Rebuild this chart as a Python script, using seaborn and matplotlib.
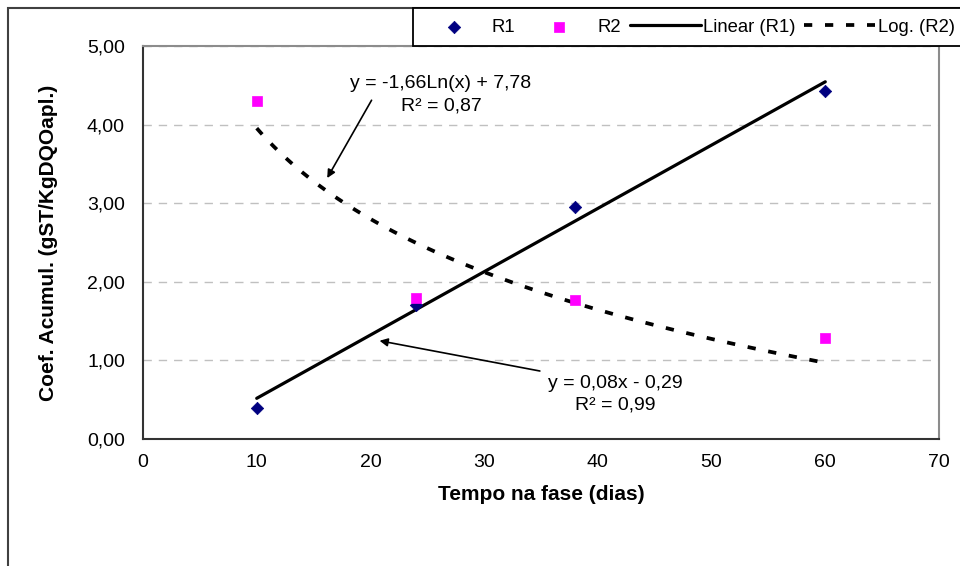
import matplotlib
matplotlib.use("Agg")
import matplotlib.pyplot as plt
import seaborn as sns
import pandas as pd
from matplotlib.patches import Rectangle

# dados
dias = [10, 24, 38, 60]
r1 = [0.40, 1.70, 2.95, 4.43]
r2 = [4.30, 1.80, 1.77, 1.28]
x_ticks = [0, 10, 20, 30, 40, 50, 60, 70]
y_ticks = [0, 1, 2, 3, 4, 5]
y_tick_labels = ["0,00", "1,00", "2,00", "3,00", "4,00", "5,00"]
eq_log = "y = -1,66Ln(x) + 7,78\nR² = 0,87"
eq_lin = "y = 0,08x - 0,29\nR² = 0,99"

df = pd.DataFrame({"dias": dias, "R1": r1, "R2": r2})

sns.set_style("white")
plt.rcParams["font.family"] = ["Liberation Sans", "DejaVu Sans"]
plt.rcParams["text.color"] = "black"
plt.rcParams["axes.labelcolor"] = "black"

fig = plt.figure(figsize=(9.6, 5.66), dpi=100)
ax = fig.add_axes([143 / 960, 1 - 439 / 566, (939 - 143) / 960, (439 - 46) / 566])

# moldura externa (estilo Excel)
fig.patches.append(Rectangle((8 / 960, -0.02), 1.1, 1 - 8 / 566 + 0.02,
                             transform=fig.transFigure, fill=False,
                             edgecolor="#404040", linewidth=1.5, zorder=0))

# linhas de tendência
sns.regplot(data=df, x="dias", y="R1", ax=ax, scatter=False, ci=None,
            color="black", line_kws={"linewidth": 2.3, "zorder": 2},
            label="Linear (R1)")
sns.regplot(data=df, x="dias", y="R2", ax=ax, scatter=False, ci=None, logx=True,
            color="black", line_kws={"linewidth": 2.7, "linestyle": (0, (2.2, 3.4)),
                                     "zorder": 2},
            label="Log. (R2)")

# pontos
sns.scatterplot(data=df, x="dias", y="R1", ax=ax, marker="D", s=40,
                color="#000080", edgecolor="#000080", linewidth=0.5,
                zorder=3, label="R1")
sns.scatterplot(data=df, x="dias", y="R2", ax=ax, marker="s", s=56,
                color="#FF00FF", edgecolor="#FF00FF", linewidth=0.5,
                zorder=3, label="R2")

handles, labels = ax.get_legend_handles_labels()
if ax.get_legend() is not None:
    ax.get_legend().remove()

ax.set_xlim(0, 70)
ax.set_ylim(0, 5)
ax.set_xticks(x_ticks)
ax.set_yticks(y_ticks)
ax.set_yticklabels(y_tick_labels)
ax.tick_params(axis="both", direction="out", length=5, width=1,
               color="#333333", labelsize=14, labelcolor="black")
ax.tick_params(axis="y", pad=8)
ax.tick_params(axis="x", pad=6)
ax.yaxis.grid(True, color="#c0c0c0", linestyle=(0, (6, 5)), linewidth=1)
ax.xaxis.grid(False)

for side in ["left", "bottom"]:
    ax.spines[side].set_color("#333333")
    ax.spines[side].set_linewidth(1.5)
for side in ["top", "right"]:
    ax.spines[side].set_color("#8c8c8c")
    ax.spines[side].set_linewidth(1.5)

ax.set_xlabel("Tempo na fase (dias)", fontsize=15, fontweight="bold")
ax.set_ylabel("Coef. Acumul. (gST/KgDQOapl.)", fontsize=15, fontweight="bold")
ax.xaxis.set_label_coords(0.5, -(485 - 439) / 393)
ax.yaxis.set_label_coords(-(143 - 58) / 796, 0.5)

# equações e setas
ax.text(26.2, 4.38, eq_log, ha="center", va="center", fontsize=14,
        multialignment="center", linespacing=1.35)
ax.annotate("", xy=(16.2, 3.32), xytext=(20.1, 4.31),
            arrowprops=dict(arrowstyle="-|>", color="black", lw=1.2,
                            mutation_scale=12, shrinkA=0, shrinkB=0))
ax.text(41.5, 0.57, eq_lin, ha="center", va="center", fontsize=14,
        multialignment="center", linespacing=1.35)
ax.annotate("", xy=(20.8, 1.25), xytext=(34.9, 0.865),
            arrowprops=dict(arrowstyle="-|>", color="black", lw=1.2,
                            mutation_scale=12, shrinkA=0, shrinkB=0))

# legenda no topo
fig.patches.append(Rectangle((413 / 960, 1 - 46 / 566), (975 - 413) / 960, 38 / 566,
                             transform=fig.transFigure, facecolor="white",
                             edgecolor="black", linewidth=1.3, zorder=4))
order = ["R1", "R2", "Linear (R1)", "Log. (R2)"]
hmap = dict(zip(labels, handles))
leg = fig.legend([hmap[k] for k in order], order, loc="center left",
                 bbox_to_anchor=(418 / 960, 1 - 27 / 566),
                 ncol=4, frameon=False,
                 fontsize=13.3, handlelength=3.85, handletextpad=0.15,
                 columnspacing=0.45, borderpad=0, borderaxespad=0)
leg.set_zorder(6)

fig.savefig("out.png", dpi=100, facecolor="white")
